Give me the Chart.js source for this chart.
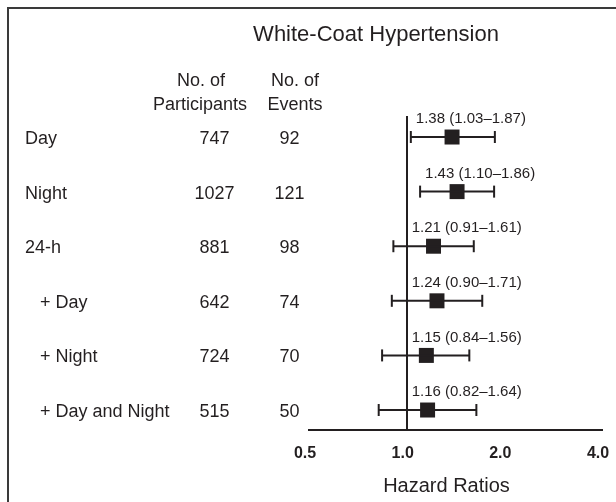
<!DOCTYPE html>
<html><head><meta charset="utf-8">
<script src="https://cdn.jsdelivr.net/npm/chart.js@4/dist/chart.umd.min.js"></script>
<style>html,body{margin:0;padding:0;background:#fff}#wrap{position:relative;width:616px;height:502px}</style>
</head><body><div id="wrap"><canvas id="c" width="616" height="502"></canvas></div>
<script>
const rowLabels = ["Day", "Night", "24-h", "+ Day", "+ Night", "+ Day and Night"];
const participants = [747, 1027, 881, 642, 724, 515];
const events = [92, 121, 98, 74, 70, 50];
const hazardRatios = [1.38, 1.43, 1.21, 1.24, 1.15, 1.16];
const ciLower = [1.03, 1.10, 0.91, 0.90, 0.84, 0.82];
const ciUpper = [1.87, 1.86, 1.61, 1.71, 1.56, 1.64];
const tickValues = [0.5, 1.0, 2.0, 4.0];
const tickLabels = ["0.5", "1.0", "2.0", "4.0"];
const titleText = "White-Coat Hypertension";
const axisTitle = "Hazard Ratios";

const ink = '#231f20';
const FONT = '"Liberation Sans", Arial, Helvetica, sans-serif';
const rowIdx = rowLabels.map((_, i) => i);

const datasets = [];
rowIdx.forEach(i => datasets.push({
  type: 'scatter', showLine: true,
  data: [{x: ciLower[i], y: i}, {x: ciUpper[i], y: i}],
  borderColor: ink, borderWidth: 2, pointRadius: 0, pointHoverRadius: 0
}));
datasets.push({
  type: 'scatter',
  data: rowIdx.flatMap(i => [{x: ciLower[i], y: i}, {x: ciUpper[i], y: i}]),
  pointStyle: 'line', rotation: 90, pointRadius: 6, borderColor: ink, borderWidth: 2
});
datasets.push({
  type: 'scatter',
  data: rowIdx.map(i => ({x: hazardRatios[i], y: i})),
  pointStyle: 'rect', pointRadius: 10.6, backgroundColor: ink, borderColor: ink, borderWidth: 0
});

const textPlugin = {
  id: 'texts',
  afterDraw(chart) {
    const {ctx, scales: {x, y}} = chart;
    ctx.save();
    ctx.strokeStyle = '#3a3a3a'; ctx.lineWidth = 2;
    ctx.strokeRect(8, 8, 620, 520);
    ctx.fillStyle = ink; ctx.textBaseline = 'middle';
    ctx.font = '22px ' + FONT; ctx.textAlign = 'center';
    ctx.fillText(titleText, 376, 35);
    ctx.font = '18px ' + FONT;
    ctx.fillText('No. of', 201, 81); ctx.fillText('Participants', 200, 105);
    ctx.fillText('No. of', 295, 81); ctx.fillText('Events', 295, 105);
    rowIdx.forEach(i => {
      const py = y.getPixelForValue(i) + 2;
      ctx.font = '18px ' + FONT;
      ctx.textAlign = 'left';
      ctx.fillText(rowLabels[i], rowLabels[i].startsWith('+') ? 40 : 25, py);
      ctx.textAlign = 'center';
      ctx.fillText(String(participants[i]), 214.5, py);
      ctx.fillText(String(events[i]), 289.5, py);
      ctx.font = '15px ' + FONT; ctx.textAlign = 'left';
      const lx = Math.max(x.getPixelForValue(ciLower[i]), x.getPixelForValue(1)) + 5;
      ctx.fillText(hazardRatios[i].toFixed(2) + ' (' + ciLower[i].toFixed(2) + '\u2013' + ciUpper[i].toFixed(2) + ')', lx, py - 20);
    });
    ctx.font = '20px ' + FONT; ctx.textAlign = 'center';
    ctx.fillText(axisTitle, 446.5, 486);
    ctx.restore();
  }
};

new Chart(document.getElementById('c'), {
  type: 'scatter',
  data: {datasets},
  plugins: [textPlugin],
  options: {
    responsive: false, animation: false, devicePixelRatio: 1, events: [],
    layout: {padding: {left: 309, right: 14, top: 116, bottom: 0}},
    plugins: {legend: {display: false}, tooltip: {enabled: false}},
    scales: {
      x: {
        type: 'logarithmic', min: 0.5, max: 4, position: 'bottom',
        afterBuildTicks: s => { s.ticks = tickValues.map(v => ({value: v})); },
        afterFit: s => { s.height = 72; s.paddingLeft = 0; s.paddingRight = 0; },
        ticks: {
          callback: (v, idx) => tickLabels[idx],
          font: {family: FONT, size: 16, weight: 'bold'}, color: ink,
          padding: 14, labelOffset: -4, maxRotation: 0, autoSkip: false
        },
        grid: {
          drawTicks: false, tickLength: 0, lineWidth: 2,
          color: c => (c.tick && c.tick.value === 1) ? ink : 'rgba(0,0,0,0)'
        },
        border: {display: true, color: ink, width: 2}
      },
      y: {type: 'linear', display: false, min: -0.385, max: 5.366, reverse: true}
    }
  }
});
</script></body></html>
